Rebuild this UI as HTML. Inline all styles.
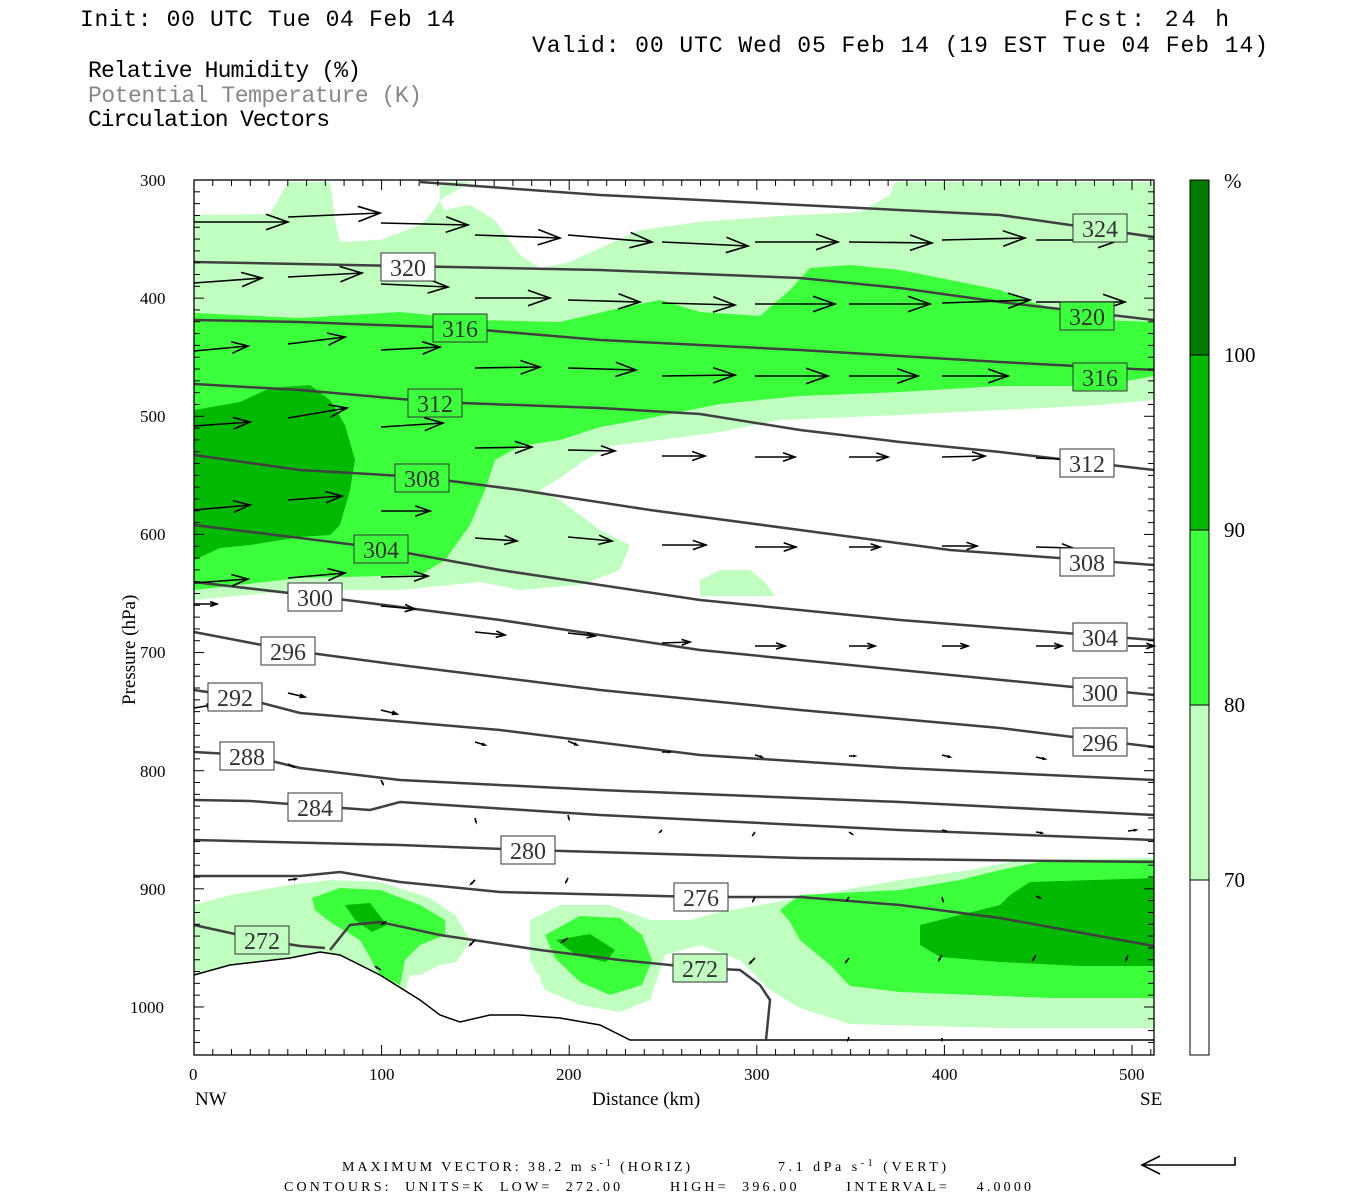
<!DOCTYPE html>
<html><head><meta charset="utf-8"><style>
html,body{margin:0;padding:0;background:#fff;}
svg{display:block;}
.h{font-family:"Liberation Mono",monospace;font-size:23px;fill:#000;}
.t{font-family:"Liberation Serif",serif;font-size:17px;fill:#000;}
.lab{font-family:"Liberation Serif",serif;font-size:24px;fill:#333;}
.b{font-family:"Liberation Serif",serif;font-size:14px;fill:#000;}
</style></head><body>
<svg id="s" width="1350" height="1200" xmlns="http://www.w3.org/2000/svg">
<text class="h" x="80" y="26" textLength="375">Init: 00 UTC Tue 04 Feb 14</text>
<text class="h" x="1064" y="26" textLength="165">Fcst:   24 h</text>
<text class="h" x="532" y="52" textLength="736">Valid: 00 UTC Wed 05 Feb 14 (19 EST Tue 04 Feb 14)</text>
<text class="h" x="88" y="77" textLength="273">Relative Humidity (%)</text>
<text class="h" x="88" y="102" textLength="334" style="fill:#888">Potential Temperature (K)</text>
<text class="h" x="88" y="126" textLength="242">Circulation Vectors</text>

<g id="fill">
<path fill="#c0ffc0" d="M194,215 L270,214 L288,182 L420,182 L1154,182 L1154,400 L1100,405 L900,415 L780,420 L720,432 L660,440 L610,446 L585,460 L560,478 L540,490 L560,500 L600,530 L630,545 L620,570 L580,585 L520,590 L480,582 L440,586 L400,590 L300,590 L194,600 Z"/>
<path fill="#c0ffc0" d="M700,580 L720,570 L750,570 L765,582 L775,596 L700,596 Z"/>
<path fill="#fff" d="M330,182 L440,182 L440,200 L430,215 L420,225 L380,240 L340,242 L335,220 Z"/>
<path fill="#fff" d="M444,210 L470,205 L495,220 L520,255 L540,268 L570,262 L600,248 L640,230 L700,222 L780,216 L860,212 L890,195 L895,182 L520,182 L470,182 L440,200 Z"/>
<path fill="#fff" d="M194,182 L280,182 L270,200 L250,212 L194,210 Z"/>
<path fill="#3cff3c" d="M194,313 L300,318 L400,312 L480,320 L560,322 L620,308 L660,300 L700,312 L760,316 L790,290 L810,268 L850,265 L900,270 L950,280 L1000,290 L1030,302 L1060,310 L1100,320 L1154,322 L1154,376 L1100,386 L1000,386 L900,392 L800,396 L720,404 L680,412 L640,420 L600,427 L560,440 L520,446 L495,460 L485,490 L470,525 L445,560 L420,575 L300,578 L194,590 Z"/>
<path fill="#00b900" d="M194,410 L240,402 L270,388 L310,385 L330,400 L345,425 L355,460 L350,490 L340,525 L330,535 L300,537 L250,545 L220,548 L194,560 Z"/>
<path fill="#c0ffc0" d="M194,905 L230,895 L290,885 L330,880 L380,882 L430,898 L455,915 L470,940 L455,965 L430,975 L410,975 L405,990 L420,1000 L194,1000 Z"/>
<path fill="#3cff3c" d="M312,898 L340,888 L380,890 L420,905 L445,920 L445,935 L420,945 L405,960 L400,985 L380,975 L360,940 L330,922 L315,910 Z"/>
<path fill="#00b900" d="M345,905 L370,903 L387,925 L372,932 L355,920 Z"/>
<path fill="#c0ffc0" d="M530,920 L560,905 L610,905 L650,920 L690,920 L720,912 L760,905 L800,898 L900,880 L970,870 L1020,860 L1154,858 L1154,1028 L1000,1028 L850,1024 L800,1008 L770,990 L740,960 L700,945 L665,955 L650,1000 L620,1012 L580,1005 L545,990 L530,960 Z"/>
<path fill="#3cff3c" d="M545,935 L580,916 L620,918 L642,935 L652,960 L642,985 L610,995 L580,982 L555,958 Z"/>
<path fill="#00b900" d="M556,940 L590,934 L615,950 L606,962 L576,955 Z"/>
<path fill="#3cff3c" d="M780,910 L800,895 L900,890 L960,880 L1000,870 L1050,860 L1154,860 L1154,998 L1050,998 L900,992 L850,986 L830,965 L800,940 L790,922 Z"/>
<path fill="#00b900" d="M1010,895 L1030,882 L1154,878 L1154,966 L1080,966 L1000,962 L940,957 L920,945 L920,925 L960,915 L1000,905 Z"/>
<path fill="#fff" d="M194,975 L230,965 L290,958 L320,952 L340,955 L380,975 L420,1000 L440,1015 L460,1022 L490,1015 L520,1015 L560,1018 L600,1025 L630,1040 L1154,1040 L1154,1055 L194,1055 Z"/>
<path fill="#fff" d="M420,975 L440,965 L470,960 L510,958 L540,975 L545,1005 L520,1012 L480,1012 L440,1010 L420,995 Z"/>
</g>
<path d="M194,975 L230,965 L290,958 L320,952 L340,955 L380,975 L420,1000 L440,1015 L460,1022 L490,1015 L520,1015 L560,1018 L600,1025 L630,1040 L1154,1040" fill="none" stroke="#000" stroke-width="1.5"/>
<g id="cont" fill="none" stroke="#404040" stroke-width="2.5"></g>
<g id="vec" stroke="#000" stroke-width="1.6" fill="none"></g>
<g id="labs"></g>
<rect x="194" y="180" width="960" height="875" fill="none" stroke="#000" stroke-width="1.3"/>
<g id="ticks" stroke="#000" stroke-width="1"></g>
<g class="t">
<text x="140" y="186">300</text><text x="140" y="304">400</text><text x="140" y="422">500</text><text x="140" y="540">600</text><text x="140" y="658">700</text><text x="140" y="777">800</text><text x="140" y="895">900</text><text x="130" y="1013">1000</text>
<text x="189" y="1080">0</text><text x="369" y="1080">100</text><text x="556" y="1080">200</text><text x="744" y="1080">300</text><text x="932" y="1080">400</text><text x="1119" y="1080">500</text>
<text x="195" y="1105" style="font-size:19px">NW</text><text x="1140" y="1105" style="font-size:19px">SE</text>
<text x="592" y="1105" style="font-size:19px">Distance (km)</text>
<text transform="translate(135,705) rotate(-90)" style="font-size:19px">Pressure (hPa)</text>
</g>
<rect x="1190" y="180" width="19" height="175" fill="#007a00"/>
<rect x="1190" y="355" width="19" height="175" fill="#00b900"/>
<rect x="1190" y="530" width="19" height="175" fill="#3cff3c"/>
<rect x="1190" y="705" width="19" height="175" fill="#c0ffc0"/>
<g stroke="#000" fill="none"><rect x="1190" y="180" width="19" height="875"/><line x1="1190" y1="355" x2="1209" y2="355"/><line x1="1190" y1="530" x2="1209" y2="530"/><line x1="1190" y1="705" x2="1209" y2="705"/><line x1="1190" y1="880" x2="1209" y2="880"/></g>
<g class="t" style="font-size:21px"><text x="1224" y="188">%</text><text x="1224" y="362">100</text><text x="1224" y="537">90</text><text x="1224" y="712">80</text><text x="1224" y="887">70</text></g>
<text class="b" x="342" y="1171" textLength="348" lengthAdjust="spacing">MAXIMUM VECTOR:  38.2 m s<tspan dy="-5" font-size="10">-1</tspan><tspan dy="5"> (HORIZ)</tspan></text>
<text class="b" x="778" y="1171" textLength="168" lengthAdjust="spacing">7.1 dPa s<tspan dy="-5" font-size="10">-1</tspan><tspan dy="5"> (VERT)</tspan></text>
<text class="b" x="284" y="1191" xml:space="preserve" textLength="747" lengthAdjust="spacing">CONTOURS:  UNITS=K  LOW=  272.00       HIGH=  396.00       INTERVAL=    4.0000</text>
<g stroke="#000" stroke-width="1.6" fill="none"><path d="M1235,1157 L1235,1165 L1142,1165 M1160,1156 L1142,1165 L1160,1174"/></g>
</svg>
<script>
var NS="http://www.w3.org/2000/svg";
function el(p,t,a,txt){var e=document.createElementNS(NS,t);for(var k in a)e.setAttribute(k,a[k]);if(txt)e.textContent=txt;document.getElementById(p).appendChild(e);return e;}
function pts(a){return "M"+a.map(function(p){return p[0]+","+p[1]}).join(" L");}
var C=[
[[420,182],[600,195],[800,205],[1000,215],[1154,237]],
[[194,262],[400,266],[600,270],[800,278],[900,288],[1000,302],[1154,320]],
[[194,320],[300,322],[460,328],[600,340],[800,350],[1000,362],[1154,370]],
[[194,384],[300,390],[435,402],[600,408],[700,414],[800,430],[900,442],[1000,452],[1154,470]],
[[194,455],[300,470],[420,477],[520,490],[650,510],[800,530],[950,550],[1154,565]],
[[194,525],[300,538],[380,548],[500,570],[700,600],[900,620],[1154,640]],
[[194,582],[315,596],[500,620],[700,650],[900,670],[1154,695]],
[[194,632],[288,650],[400,665],[600,690],[800,710],[1000,728],[1154,747]],
[[194,690],[235,696],[300,713],[500,730],[700,755],[900,768],[1154,780]],
[[194,752],[247,755],[300,768],[400,780],[600,790],[900,802],[1154,815]],
[[194,800],[250,801],[315,806],[370,810],[400,802],[600,815],[900,830],[1154,840]],
[[194,840],[400,845],[528,850],[800,858],[1154,862]],
[[194,876],[300,876],[340,872],[400,882],[500,892],[700,897],[800,897],[900,905],[1000,918],[1154,946]],
[[194,925],[262,940],[300,946],[325,948]],
[[330,950],[350,925],[380,922],[440,935],[540,950],[620,960],[700,968],[740,970],[760,985],[770,1000],[766,1040]]
];
C.forEach(function(c){el("cont","path",{d:pts(c)});});
var W="#fff",LG="#c0ffc0",MG="#3cff3c";
var L=[[1100,228,"324",LG],[408,267,"320",W],[1087,316,"320",MG],[460,328,"316",MG],[1100,377,"316",MG],[435,403,"312",MG],[1087,463,"312",W],[422,478,"308",MG],[1087,562,"308",W],[381,549,"304",MG],[1100,637,"304",W],[315,597,"300",W],[1100,692,"300",W],[288,651,"296",W],[1100,742,"296",W],[235,697,"292",W],[247,756,"288",W],[315,807,"284",W],[528,850,"280",W],[701,897,"276",W],[262,940,"272",LG],[700,968,"272",LG]];
L.forEach(function(l){
 el("labs","rect",{x:l[0]-27,y:l[1]-14,width:54,height:28,fill:l[3],stroke:"#333","stroke-width":1});
 el("labs","text",{x:l[0],y:l[1]+9,"text-anchor":"middle","class":"lab"},l[2]);});
var V=[
[194,222,288,222],[288,217,380,213],[381,223,468,225],[475,235,560,238],[568,235,652,242],[662,242,748,246],[755,242,838,242],[849,242,932,243],[942,240,1025,238],[1036,240,1120,240],
[194,283,262,278],[288,277,362,273],[381,284,448,287],[475,298,550,298],[568,300,640,302],[662,303,735,305],[755,304,835,304],[849,304,930,304],[942,303,1030,300],[1036,302,1125,302],
[194,351,248,346],[288,344,345,337],[381,350,440,347],[475,368,540,367],[568,368,636,370],[662,376,735,375],[755,376,828,376],[849,376,918,376],[942,376,1008,376],
[194,426,250,422],[288,418,347,408],[381,427,443,423],[475,448,532,447],[568,450,615,451],[662,456,705,456],[755,457,795,457],[849,457,888,457],[942,457,985,456],[1036,458,1080,460],
[194,510,250,505],[288,500,342,496],[381,511,430,511],[475,538,517,541],[568,537,612,541],[662,545,706,545],[755,547,796,547],[849,547,880,547],[942,546,977,546],[1036,547,1073,548],
[194,583,248,579],[288,578,345,573],[381,577,428,576],
[194,604,217,604],[288,594,318,593],[381,606,415,609],[475,632,505,635],[568,633,595,636],[662,643,690,642],[755,646,785,646],[849,646,875,646],[942,646,968,646],[1036,646,1062,646],[1128,646,1154,646],
[194,708,212,705],[288,693,305,697],[381,710,397,714],[475,742,485,745],[568,741,577,745],[662,752,670,752],[755,755,762,757],[849,756,855,756],[942,755,950,757],[1036,757,1045,759],
[288,764,294,767],[381,780,383,784],[475,818,476,822],[568,815,569,819],[662,830,660,832],[755,832,753,835],[849,832,852,834],[942,830,946,831],[1036,832,1042,833],[1128,831,1136,830],
[288,880,296,879],[475,880,471,884],[568,878,566,882],[755,897,753,901],[849,897,847,900],[942,897,943,901],[1036,896,1040,898],
[381,925,385,922],[475,940,470,945],[568,938,562,942],[755,958,750,963],[849,958,846,962],[942,955,939,960],[1036,955,1033,960],[1128,955,1126,960],
[381,970,376,967],[849,1037,848,1040],[942,1038,942,1040]
];
V.forEach(function(v){var dx=v[2]-v[0],dy=v[3]-v[1],len=Math.sqrt(dx*dx+dy*dy);if(len<1)return;var ux=dx/len,uy=dy/len,h=Math.min(22,len*0.3);
 var a1=[v[2]-h*ux+h*0.35*uy,v[3]-h*uy-h*0.35*ux],a2=[v[2]-h*ux-h*0.35*uy,v[3]-h*uy+h*0.35*ux];
 el("vec","path",{d:"M"+v[0]+","+v[1]+" L"+v[2]+","+v[3]+" M"+a1[0].toFixed(1)+","+a1[1].toFixed(1)+" L"+v[2]+","+v[3]+" L"+a2[0].toFixed(1)+","+a2[1].toFixed(1)});});
for(var p=300;p<=1030;p+=10){var y=180+(p-300)*1.1814;var m=(p%100==0)?10:6;el("ticks","line",{x1:194,y1:y,x2:194+m,y2:y});el("ticks","line",{x1:1154,y1:y,x2:1154-m,y2:y});}
for(var d=0;d<=510;d+=10){var x=194+d*1.876;var m=(d%100==0)?10:6;el("ticks","line",{x1:x,y1:1055,x2:x,y2:1055-m});el("ticks","line",{x1:x,y1:180,x2:x,y2:180+m});}
</script>
</body></html>
